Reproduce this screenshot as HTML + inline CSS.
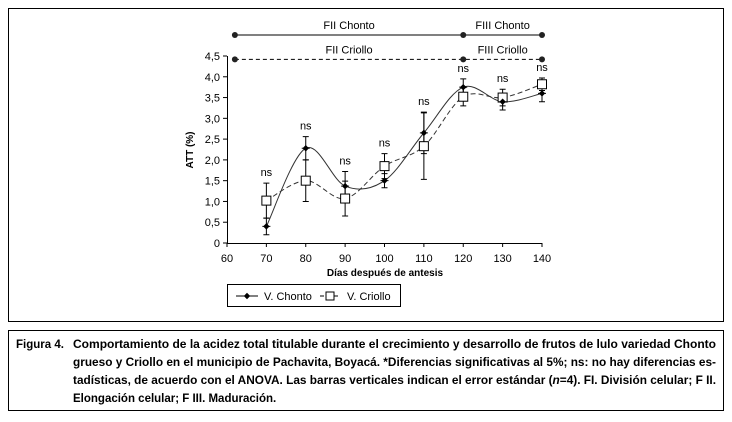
<!DOCTYPE html>
<html><head><meta charset="utf-8"><style>
body{margin:0;background:#fff;width:732px;height:417px;overflow:hidden;font-family:"Liberation Sans Narrow","Liberation Sans",sans-serif}
</style></head><body>
<svg width="732" height="417" font-family="'Liberation Sans Narrow','Liberation Sans',sans-serif">
<rect x="8.5" y="8.5" width="715" height="313" fill="none" stroke="#000"/>
<rect x="8.5" y="330.5" width="715" height="80" fill="none" stroke="#000"/>
<g id="chart"></g>
<g font-size="11.5" font-weight="bold">
<text x="16" y="348">Figura 4.</text>
<text x="73" y="348" textLength="643" lengthAdjust="spacingAndGlyphs">Comportamiento de la acidez total titulable durante el crecimiento y desarrollo de frutos de lulo variedad Chonto</text>
<text x="73" y="366" textLength="643" lengthAdjust="spacingAndGlyphs">grueso y Criollo en el municipio de Pachavita, Boyacá. *Diferencias significativas al 5%; ns: no hay diferencias es-</text>
<text x="73" y="384" textLength="643" lengthAdjust="spacingAndGlyphs">tadísticas, de acuerdo con el ANOVA. Las barras verticales indican el error estándar (<tspan font-style="italic">n</tspan>=4). FI. División celular; F II.</text>
<text x="73" y="402">Elongación celular; F III. Maduración.</text>
</g>
</svg>
<script>
const days=[70,80,90,100,110,120,130,140];
const chonto=[0.4,2.28,1.37,1.5,2.65,3.75,3.4,3.6];
const chontoErr=[0.2,0.28,0.35,0.17,0.5,0.2,0.2,0.2];
const criollo=[1.02,1.5,1.07,1.85,2.33,3.52,3.5,3.82];
const criolloErr=[0.42,0.5,0.42,0.3,0.8,0.22,0.2,0.15];
const xTicks=[60,70,80,90,100,110,120,130,140];
const yTicks=[0,0.5,1,1.5,2,2.5,3,3.5,4,4.5];
const yTickLabels=["0","0,5","1,0","1,5","2,0","2,5","3,0","3,5","4,0","4,5"];
const sx=v=>227+(v-60)*315/80;
const sy=v=>243-v*187/4.5;
const NS="http://www.w3.org/2000/svg";
const g=document.getElementById('chart');
function el(t,a,p){const e=document.createElementNS(NS,t);for(const k in a)e.setAttribute(k,a[k]);(p||g).appendChild(e);return e;}
function txt(x,y,s,a){const e=el('text',Object.assign({x:x,y:y},a||{}));e.textContent=s;return e;}
// axes
let ax=el('line',{x1:227,y1:243.5,x2:542,y2:243.5,stroke:'#000'});


let ay=el('line',{x1:227.5,y1:243,x2:227.5,y2:56,stroke:'#000'});


xTicks.forEach(v=>{el('line',{x1:sx(v),y1:243,x2:sx(v),y2:247,stroke:'#000'});
const t=txt(sx(v),262,String(v),{'font-size':11,'text-anchor':'middle'});

});
yTicks.forEach((v,i)=>{el('line',{x1:223,y1:sy(v),x2:227,y2:sy(v),stroke:'#000'});
const t=txt(220,sy(v)+4,yTickLabels[i],{'font-size':11,'text-anchor':'end'});

});
let xt=txt(385,276,'Días después de antesis',{'font-size':10,'font-weight':'bold','text-anchor':'middle'});


let yt=txt(0,0,'ATT (%)',{'font-size':10,'font-weight':'bold','text-anchor':'middle',transform:'translate(193,150) rotate(-90)'});


// phase lines
function phase(y,dash,l1,l2,name){
 const a={stroke:'#000','stroke-width':1};if(dash)a['stroke-dasharray']='4,3';
 el('line',Object.assign({x1:sx(62),y1:y,x2:sx(140),y2:y},a));
 [62,120,140].forEach(d=>{const c=el('circle',{cx:sx(d),cy:y,r:3,fill:'#222'});});
 let t1=txt(sx(91),y-6,l1,{'font-size':11,'text-anchor':'middle'});
 
 
 let t2=txt(sx(130),y-6,l2,{'font-size':11,'text-anchor':'middle'});
 
 
}
phase(35,false,'FII Chonto','FIII Chonto','phase-chonto');
phase(sy(4.42),true,'FII Criollo','FIII Criollo','phase-criollo');
function spline(vals){const p=days.map((d,i)=>[sx(d),sy(vals[i])]);let s='M'+p[0];
 for(let i=0;i<p.length-1;i++){const p0=p[i-1]||p[i],p1=p[i],p2=p[i+1],p3=p[i+2]||p2;
 const c1=[p1[0]+(p2[0]-p0[0])/6,p1[1]+(p2[1]-p0[1])/6],c2=[p2[0]-(p3[0]-p1[0])/6,p2[1]-(p3[1]-p1[1])/6];
 s+=' C'+c1+' '+c2+' '+p2;}return s;}
let lc=el('path',{d:spline(criollo),fill:'none',stroke:'#333','stroke-dasharray':'5,3'});


let lh=el('path',{d:spline(chonto),fill:'none',stroke:'#333'});


function errs(vals,er,name){days.forEach((d,i)=>{const x=sx(d);
 const e=el('path',{d:`M${x},${sy(vals[i]-er[i])}V${sy(vals[i]+er[i])}M${x-3},${sy(vals[i]-er[i])}h6M${x-3},${sy(vals[i]+er[i])}h6`,stroke:'#000',fill:'none'});
 
 });}
errs(criollo,criolloErr,'criollo');errs(chonto,chontoErr,'chonto');
days.forEach((d,i)=>{const r=el('rect',{x:sx(d)-4.5,y:sy(criollo[i])-4.5,width:9,height:9,fill:'#fff',stroke:'#000'});


const m=el('path',{d:`M${sx(d)-4},${sy(chonto[i])}h8M${sx(d)},${sy(chonto[i])-2.5}l2.5,2.5l-2.5,2.5l-2.5,-2.5z`,stroke:'#000',fill:'#000'});


const top=Math.max(chonto[i]+chontoErr[i],criollo[i]+criolloErr[i]);
const n=txt(sx(d),sy(top)-7,'ns',{'font-size':11,'text-anchor':'middle'});

});
// legend
const lg=el('g',{});


el('rect',{x:227.5,y:284.5,width:173,height:22,fill:'#fff',stroke:'#000'},lg);
el('path',{d:'M236,296h22M247,293.5l2.5,2.5l-2.5,2.5l-2.5,-2.5z',stroke:'#000',fill:'#000'},lg);
txt(264,300,'V. Chonto',{'font-size':11},lg);
el('path',{d:'M320,296h20',stroke:'#000','stroke-dasharray':'4,3'},lg);
el('rect',{x:326,y:292,width:8,height:8,fill:'#fff',stroke:'#000'},lg);
txt(347,300,'V. Criollo',{'font-size':11},lg);
</script>
</body></html>
